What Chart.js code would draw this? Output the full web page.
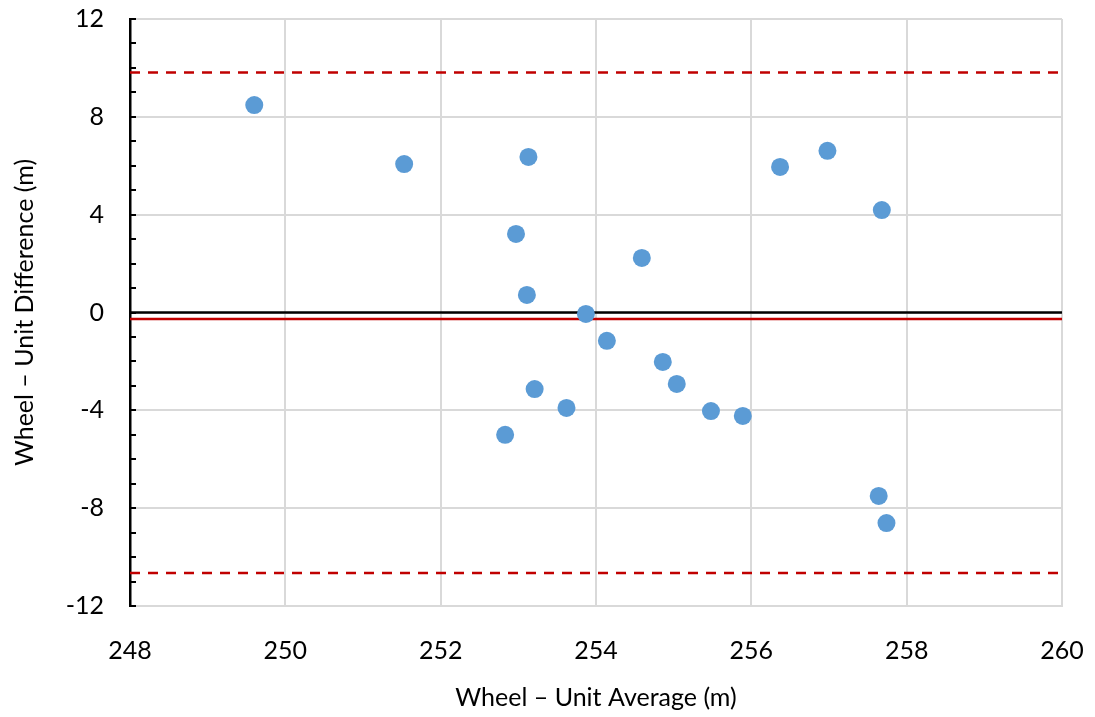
<!DOCTYPE html>
<html>
<head>
<meta charset="utf-8">
<script src="https://cdn.jsdelivr.net/npm/chart.js@4/dist/chart.umd.min.js"></script>
<style>
  html, body { margin: 0; padding: 0; background: #fff; }
  #wrap { width: 1095px; height: 717px; }
</style>
</head>
<body>
<div id="wrap"><canvas id="blandAltman"></canvas></div>
<script>
// values
const averages = [249.60, 251.53, 253.13, 252.97, 253.11, 253.87, 253.21, 253.62, 252.83, 254.14,
                  254.59, 254.86, 255.04, 255.48, 255.89, 256.37, 256.98, 257.68, 257.64, 257.74];
const differences = [8.48, 6.07, 6.36, 3.21, 0.72, -0.06, -3.13, -3.90, -5.00, -1.16,
                     2.23, -2.02, -2.92, -4.03, -4.23, 5.95, 6.61, 4.19, -7.50, -8.61];
const meanDiff = -0.27;
const upperLimit = 9.81;
const lowerLimit = -10.65;
const xRange = [248, 260];
const yRange = [-12, 12];

const points = averages.map((a, i) => ({ x: a, y: differences[i] }));
const hLine = v => [{ x: xRange[0], y: v }, { x: xRange[1], y: v }];

// small tick marks on the inside of the y axis, one per unit
const minorTicks = {
    id: 'minorTicks',
    afterDraw(chart) {
        const ctx = chart.ctx;
        const y = chart.scales.y;
        const x0 = chart.scales.x.getPixelForValue(xRange[0]);
        ctx.save();
        ctx.strokeStyle = '#000';
        ctx.lineWidth = 2;
        for (let v = yRange[0]; v <= yRange[1]; v++) {
            const py = Math.round(y.getPixelForValue(v));
            ctx.beginPath();
            ctx.moveTo(x0, py);
            ctx.lineTo(x0 + 6, py);
            ctx.stroke();
        }
        ctx.restore();
    }
};

const font = { family: 'Lato, "Open Sans", sans-serif', size: 25 };

const ctx = document.getElementById('blandAltman').getContext('2d');
new Chart(ctx, {
    type: 'scatter',
    data: {
        datasets: [
            {
                data: points,
                backgroundColor: '#5b9bd5',
                borderWidth: 0,
                pointRadius: 9,
                order: 0
            },
            {
                data: hLine(0),
                showLine: true,
                borderColor: '#000',
                borderWidth: 2.5,
                pointRadius: 0,
                order: 1
            },
            {
                data: hLine(meanDiff),
                showLine: true,
                borderColor: '#c00000',
                borderWidth: 2.5,
                pointRadius: 0,
                order: 1
            },
            {
                data: hLine(upperLimit),
                showLine: true,
                borderColor: '#c00000',
                borderWidth: 2.5,
                borderDash: [10, 8],
                pointRadius: 0,
                order: 1
            },
            {
                data: hLine(lowerLimit),
                showLine: true,
                borderColor: '#c00000',
                borderWidth: 2.5,
                borderDash: [10, 8],
                pointRadius: 0,
                order: 1
            }
        ]
    },
    options: {
        responsive: true,
        maintainAspectRatio: false,
        animation: false,
        layout: { padding: { left: 0, right: 33, top: 19, bottom: 0 } },
        plugins: {
            legend: { display: false },
            tooltip: { enabled: false }
        },
        scales: {
            x: {
                min: xRange[0],
                max: xRange[1],
                afterFit: s => { s.height = 111; s.paddingLeft = 0; s.paddingRight = 0; },
                ticks: { stepSize: 2, color: '#000', font: font, padding: 30 },
                grid: { color: '#d9d9d9', lineWidth: 2, drawTicks: false },
                border: { color: '#d9d9d9', width: 2 },
                title: {
                    display: true,
                    text: 'Wheel – Unit Average (m)',
                    color: '#000',
                    font: font,
                    padding: { top: 4 }
                }
            },
            y: {
                min: yRange[0],
                max: yRange[1],
                afterFit: s => { s.width = 130; s.paddingTop = 0; s.paddingBottom = 0; },
                ticks: {
                    stepSize: 1,
                    color: '#000',
                    font: font,
                    padding: 26,
                    autoSkip: false,
                    callback: v => (v % 4 === 0 ? v : '')
                },
                grid: {
                    color: c => (c.tick && c.tick.value % 4 === 0 ? '#d9d9d9' : 'rgba(0,0,0,0)'),
                    lineWidth: 2,
                    drawTicks: false
                },
                border: { color: '#000', width: 2.5 },
                title: {
                    display: true,
                    text: 'Wheel – Unit Difference (m)',
                    color: '#000',
                    font: font,
                    padding: { top: 10, bottom: 0 }
                }
            }
        }
    },
    plugins: [minorTicks]
});
</script>
</body>
</html>
